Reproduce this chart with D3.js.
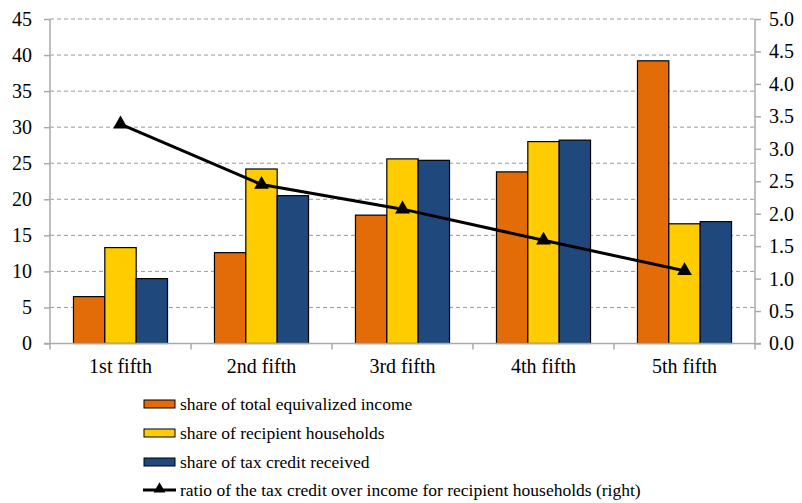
<!DOCTYPE html>
<html><head><meta charset="utf-8">
<script src="https://cdn.jsdelivr.net/npm/d3@7"></script>
<style>body{margin:0;background:#fff}svg{display:block}text{font-family:"Liberation Serif","Times New Roman",serif;fill:#000}</style>
</head><body><svg id="c" width="802" height="503"></svg>
<script>
const categories = ["1st fifth","2nd fifth","3rd fifth","4th fifth","5th fifth"];
const incomeShare = [6.5,12.6,17.8,23.8,39.2];
const householdShare = [13.3,24.2,25.6,28.0,16.6];
const creditShare = [9.0,20.5,25.4,28.2,16.9];
const ratio = [3.38,2.45,2.07,1.59,1.12];
const leftTicks = [0,5,10,15,20,25,30,35,40,45];
const rightTicks = [0,0.5,1,1.5,2,2.5,3,3.5,4,4.5,5];
const seriesNames = ["share of total equivalized income","share of recipient households","share of tax credit received","ratio of the tax credit over income for recipient households (right)"];
const colors = ["#E36C09","#FFCC00","#1F497D"];

const svg = d3.select("#c");
const L=50,R=755,T=19,B=343.5;
const x = d3.scaleBand().domain(categories).range([L,R]).paddingInner(0.333).paddingOuter(0.1665);
const xs = d3.scaleBand().domain([0,1,2]).range([0,x.bandwidth()]);
const y = d3.scaleLinear().domain([0,45]).range([B,T]);
const y2 = d3.scaleLinear().domain([0,5]).range([B,T]);

// gridlines
svg.append("g").selectAll("line").data(leftTicks.filter(d=>d>0)).join("line")
  .attr("x1",L).attr("x2",R).attr("y1",d=>y(d)).attr("y2",d=>y(d))
  .attr("stroke","#999").attr("stroke-width",1).attr("stroke-dasharray","4,3");

// bars
const series=[incomeShare,householdShare,creditShare];
series.forEach((s,i)=>{
  svg.append("g").selectAll("rect").data(s).join("rect")
    .attr("x",(d,j)=>x(categories[j])+xs(i)).attr("width",xs.bandwidth())
    .attr("y",d=>y(d)).attr("height",d=>y(0)-y(d))
    .attr("fill",colors[i]).attr("stroke","#000").attr("stroke-width",1.2);
});

// axes
const gL = svg.append("g").attr("transform",`translate(${L},0)`)
  .call(d3.axisLeft(y).tickValues(leftTicks).tickSize(6).tickPadding(12).tickFormat(d3.format("d")));
const gR = svg.append("g").attr("transform",`translate(${R},0)`)
  .call(d3.axisRight(y2).tickValues(rightTicks).tickSize(6).tickPadding(8).tickFormat(d3.format(".1f")));
const gB = svg.append("g").attr("transform",`translate(0,${B})`)
  .call(d3.axisBottom(x).tickSize(0).tickPadding(15));
[gL,gR,gB].forEach(g=>{
  g.attr("font-family",null);
  g.select(".domain").attr("stroke","#aaa").attr("stroke-width",1.5);
  g.selectAll(".tick line").attr("stroke","#aaa").attr("stroke-width",1.5);
  g.selectAll("text").attr("font-size",20).style("font-family","'Liberation Serif','Times New Roman',serif");
});
gL.select(".domain").attr("d",`M0,${B}V${T}`);
gR.select(".domain").attr("d",`M0,${B}V${T}`);
gB.select(".domain").attr("d",`M${L-6},0H${R+6}`);
// category boundary ticks
const bounds = categories.map(c=>x(c)-x.step()*x.paddingInner()/2).concat([R]);
svg.append("g").selectAll("line").data(bounds).join("line")
  .attr("x1",d=>d).attr("x2",d=>d).attr("y1",B).attr("y2",B+6)
  .attr("stroke","#aaa").attr("stroke-width",1.5);

// line
const cx = c=>x(c)+x.bandwidth()/2;
svg.append("path").datum(ratio)
  .attr("d",d3.line().x((d,i)=>cx(categories[i])).y(d=>y2(d)))
  .attr("fill","none").attr("stroke","#000").attr("stroke-width",3);
const tri = d3.symbol().type(d3.symbolTriangle).size(95);
svg.append("g").selectAll("path").data(ratio).join("path")
  .attr("d",tri).attr("transform",(d,i)=>`translate(${cx(categories[i])},${y2(d)})`).attr("fill","#000");

// legend
const lg = svg.append("g");
const rows=[404,433,462,490];
[0,1,2].forEach(i=>{
  lg.append("rect").attr("x",144).attr("y",rows[i]-4).attr("width",31).attr("height",8)
    .attr("fill",colors[i]).attr("stroke","#000").attr("stroke-width",1);
});
lg.append("line").attr("x1",143).attr("x2",176).attr("y1",rows[3]).attr("y2",rows[3]).attr("stroke","#000").attr("stroke-width",3);
lg.append("path").attr("d",d3.symbol().type(d3.symbolTriangle).size(60)).attr("transform",`translate(159.5,${rows[3]-1})`).attr("fill","#000");
seriesNames.forEach((n,i)=>{
  lg.append("text").attr("x",180).attr("y",rows[i]).attr("dy","0.35em").attr("font-size",17.5).text(n);
});
</script></body></html>
